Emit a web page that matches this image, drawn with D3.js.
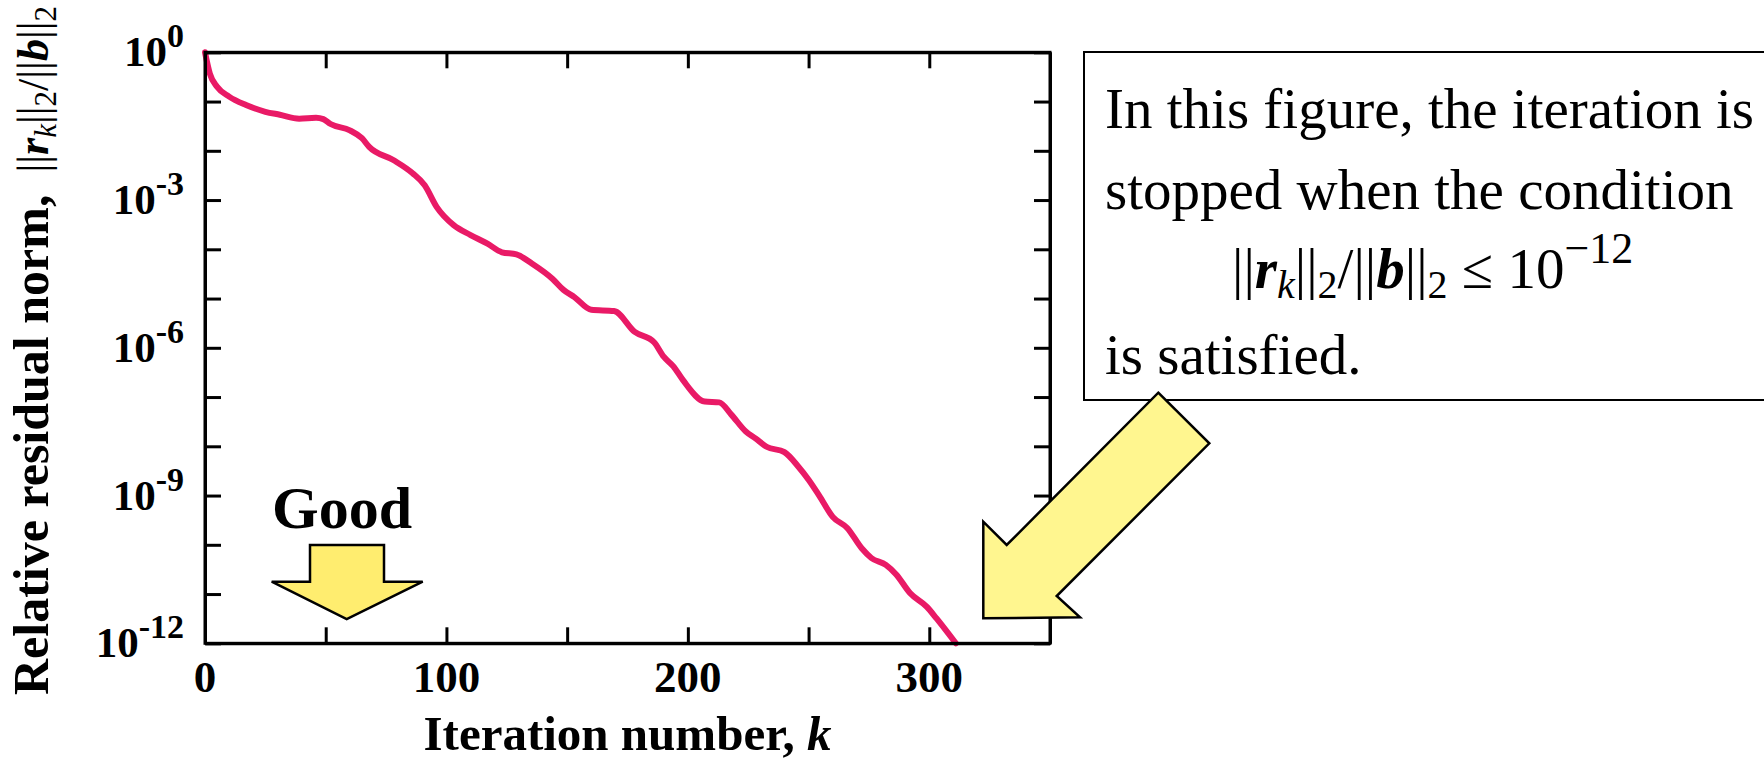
<!DOCTYPE html>
<html>
<head>
<meta charset="utf-8">
<script src="https://cdn.jsdelivr.net/npm/d3@7"></script>
<style>
  html, body { margin: 0; padding: 0; background: #ffffff; }
  svg { display: block; }
  text { font-family: "Liberation Serif", "Times New Roman", serif; fill: #000; }
</style>
</head>
<body>
<svg id="chart" width="1764" height="758"></svg>
<script>
// ---- data ----
const iterations = [0, 2, 5, 10, 17, 25, 31, 39, 46, 49, 52, 60, 65, 68, 78, 86, 91, 96, 103, 110,
  117, 123, 129, 135.5, 144, 148.5, 153, 160, 169.4, 178, 186, 190, 194, 198, 207, 213, 218, 224,
  228, 232.6, 240, 245.7, 250, 254.4, 260, 266, 272, 276, 282, 286.3, 292, 299, 303, 311];
const residualNorm = [1, 3.7e-1, 2.0e-1, 1.26e-1, 8.5e-2, 6.2e-2, 5.4e-2, 4.5e-2, 4.7e-2, 4.4e-2,
  3.5e-2, 2.6e-2, 1.8e-2, 1.2e-2, 6.5e-3, 3.5e-3, 2.0e-3, 7.2e-4, 3.1e-4, 1.95e-4,
  1.3e-4, 8.7e-5, 7.9e-5, 5.1e-5, 2.5e-5, 1.5e-5, 1.07e-5, 5.9e-6, 5.6e-6, 2.1e-6,
  1.3e-6, 6.6e-7, 4.2e-7, 2.2e-7, 8.1e-8, 7.8e-8, 4.4e-8, 2.0e-8, 1.45e-8, 9.8e-9,
  7.6e-9, 3.9e-9, 2.1e-9, 1.0e-9, 3.7e-10, 2.2e-10, 8.5e-11, 5.4e-11, 3.9e-11, 2.5e-11,
  1.05e-11, 5.5e-12, 3.2e-12, 1e-12];
const xDomain = [0, 350];
const xTickValues = [0, 50, 100, 150, 200, 250, 300, 350];
const xTickLabels = [0, 100, 200, 300];
const yDomain = [1e-12, 1];
const yTickValues = [1, 1e-1, 1e-2, 1e-3, 1e-4, 1e-5, 1e-6, 1e-7, 1e-8, 1e-9, 1e-10, 1e-11, 1e-12];
const yLabelExponents = ["0", "-3", "-6", "-9", "-12"];
const xAxisTitle = "Iteration number, ";
const yAxisTitle = "Relative residual norm,";
const noteLines = ["In this figure, the iteration is", "stopped when the condition", "is satisfied."];
const goodLabel = "Good";

// ---- layout ----
const svg = d3.select("#chart");
const plot = { left: 205, right: 1050, top: 52.3, bottom: 643.3 };
const x = d3.scaleLinear().domain(xDomain).range([plot.left, plot.right]);
const y = d3.scaleLog().domain(yDomain).range([plot.bottom, plot.top]);

// curve
const line = d3.line().x(d => x(d[0])).y(d => y(d[1])).curve(d3.curveMonotoneX);
svg.append("path")
  .datum(iterations.map((k, i) => [k, residualNorm[i]]))
  .attr("d", line)
  .attr("fill", "none")
  .attr("stroke", "#e91a66")
  .attr("stroke-width", 6)
  .attr("stroke-linejoin", "round")
  .attr("stroke-linecap", "round");

// axes (ticks inward on all four sides)
function styleAxis(g) {
  g.select(".domain").attr("stroke", "#000").attr("stroke-width", 3);
  g.selectAll(".tick line").attr("stroke", "#000").attr("stroke-width", 3);
  g.selectAll(".tick text").remove();
}
svg.append("g").attr("transform", `translate(0,${plot.bottom})`)
  .call(d3.axisBottom(x).tickValues(xTickValues).tickSize(-16).tickSizeOuter(0)).call(styleAxis);
svg.append("g").attr("transform", `translate(0,${plot.top})`)
  .call(d3.axisTop(x).tickValues(xTickValues).tickSize(-16).tickSizeOuter(0)).call(styleAxis);
svg.append("g").attr("transform", `translate(${plot.left},0)`)
  .call(d3.axisLeft(y).tickValues(yTickValues).tickSize(-16).tickSizeOuter(0)).call(styleAxis);
svg.append("g").attr("transform", `translate(${plot.right},0)`)
  .call(d3.axisRight(y).tickValues(yTickValues).tickSize(-16).tickSizeOuter(0)).call(styleAxis);
svg.append("rect")
  .attr("x", plot.left).attr("y", plot.top)
  .attr("width", plot.right - plot.left).attr("height", plot.bottom - plot.top)
  .attr("fill", "none").attr("stroke", "#000").attr("stroke-width", 3);

// x tick labels
svg.selectAll(".xlab").data(xTickLabels).enter().append("text")
  .attr("x", d => x(d)).attr("y", 692)
  .attr("text-anchor", "middle")
  .attr("font-weight", "bold").attr("font-size", 45)
  .text(d => d);

// y tick labels 10^n
yLabelExponents.forEach(e => {
  const t = svg.append("text")
    .attr("x", 184).attr("y", y(Math.pow(10, +e)) + 14)
    .attr("text-anchor", "end")
    .attr("font-weight", "bold").attr("font-size", 43);
  t.append("tspan").text("10");
  t.append("tspan").attr("font-size", 34).attr("dy", -19).text(e);
});

// x axis title
const xt = svg.append("text")
  .attr("x", (plot.left + plot.right) / 2).attr("y", 750)
  .attr("text-anchor", "middle")
  .attr("font-weight", "bold").attr("font-size", 49);
xt.append("tspan").text(xAxisTitle);
xt.append("tspan").attr("font-style", "italic").text("k");

// y axis title (rotated)
const ytg = svg.append("g").attr("transform", "translate(48,695) rotate(-90)");
const yt = ytg.append("text")
  .attr("x", 0).attr("y", 0)
  .attr("text-anchor", "start")
  .attr("font-size", 50);
yt.append("tspan").attr("font-weight", "bold").text(yAxisTitle);
yt.append("tspan").attr("dx", 22).attr("font-size", 44).text("||");
yt.append("tspan").attr("font-size", 44).attr("font-weight", "bold").attr("font-style", "italic").text("r");
yt.append("tspan").attr("font-style", "italic").attr("font-size", 31).attr("dy", 8).text("k");
yt.append("tspan").attr("font-size", 44).attr("dy", -8).text("||");
yt.append("tspan").attr("font-size", 31).attr("dy", 8).text("2");
yt.append("tspan").attr("font-size", 44).attr("dy", -8).text("/||");
yt.append("tspan").attr("font-size", 44).attr("font-weight", "bold").attr("font-style", "italic").text("b");
yt.append("tspan").attr("font-size", 44).text("||");
yt.append("tspan").attr("font-size", 31).attr("dy", 8).text("2");

// "Good" annotation and arrow
svg.append("text")
  .attr("x", 342).attr("y", 528)
  .attr("text-anchor", "middle")
  .attr("font-weight", "bold").attr("font-size", 60)
  .text(goodLabel);
svg.append("polygon")
  .attr("points", "310,545 384,545 384,581.7 422.7,581.7 346.7,619 271.7,581.7 310,581.7")
  .attr("fill", "#ffed6f").attr("stroke", "#000").attr("stroke-width", 2.5)
  .attr("stroke-linejoin", "miter");

// note box
svg.append("rect")
  .attr("x", 1084).attr("y", 52).attr("width", 800).attr("height", 348)
  .attr("fill", "#fff").attr("stroke", "#000").attr("stroke-width", 2);
const noteBaselines = [128, 209, 374];
noteLines.forEach((s, i) => {
  svg.append("text").attr("x", 1105).attr("y", noteBaselines[i])
    .attr("font-size", 57).text(s);
});
const f = svg.append("text").attr("x", 1232).attr("y", 288).attr("font-size", 57);
f.append("tspan").text("||");
f.append("tspan").attr("font-weight", "bold").attr("font-style", "italic").text("r");
f.append("tspan").attr("font-style", "italic").attr("font-size", 40).attr("dy", 10).text("k");
f.append("tspan").attr("dy", -10).text("||");
f.append("tspan").attr("font-size", 40).attr("dy", 10).text("2");
f.append("tspan").attr("dy", -10).text("/||");
f.append("tspan").attr("font-weight", "bold").attr("font-style", "italic").text("b");
f.append("tspan").text("||");
f.append("tspan").attr("font-size", 40).attr("dy", 10).text("2");
f.append("tspan").attr("dy", -10).text(" \u2264 10");
f.append("tspan").attr("font-size", 44).attr("dy", -25).text("\u221212");

// big arrow pointing at the end of the curve
svg.append("polygon")
  .attr("points", "1158.3,392.7 1209.3,443.3 1056.7,596 1080,617.3 983.3,618.3 983.3,521.7 1006.7,545")
  .attr("fill", "#fff68f").attr("stroke", "#000").attr("stroke-width", 2.5)
  .attr("stroke-linejoin", "miter");
</script>
</body>
</html>
